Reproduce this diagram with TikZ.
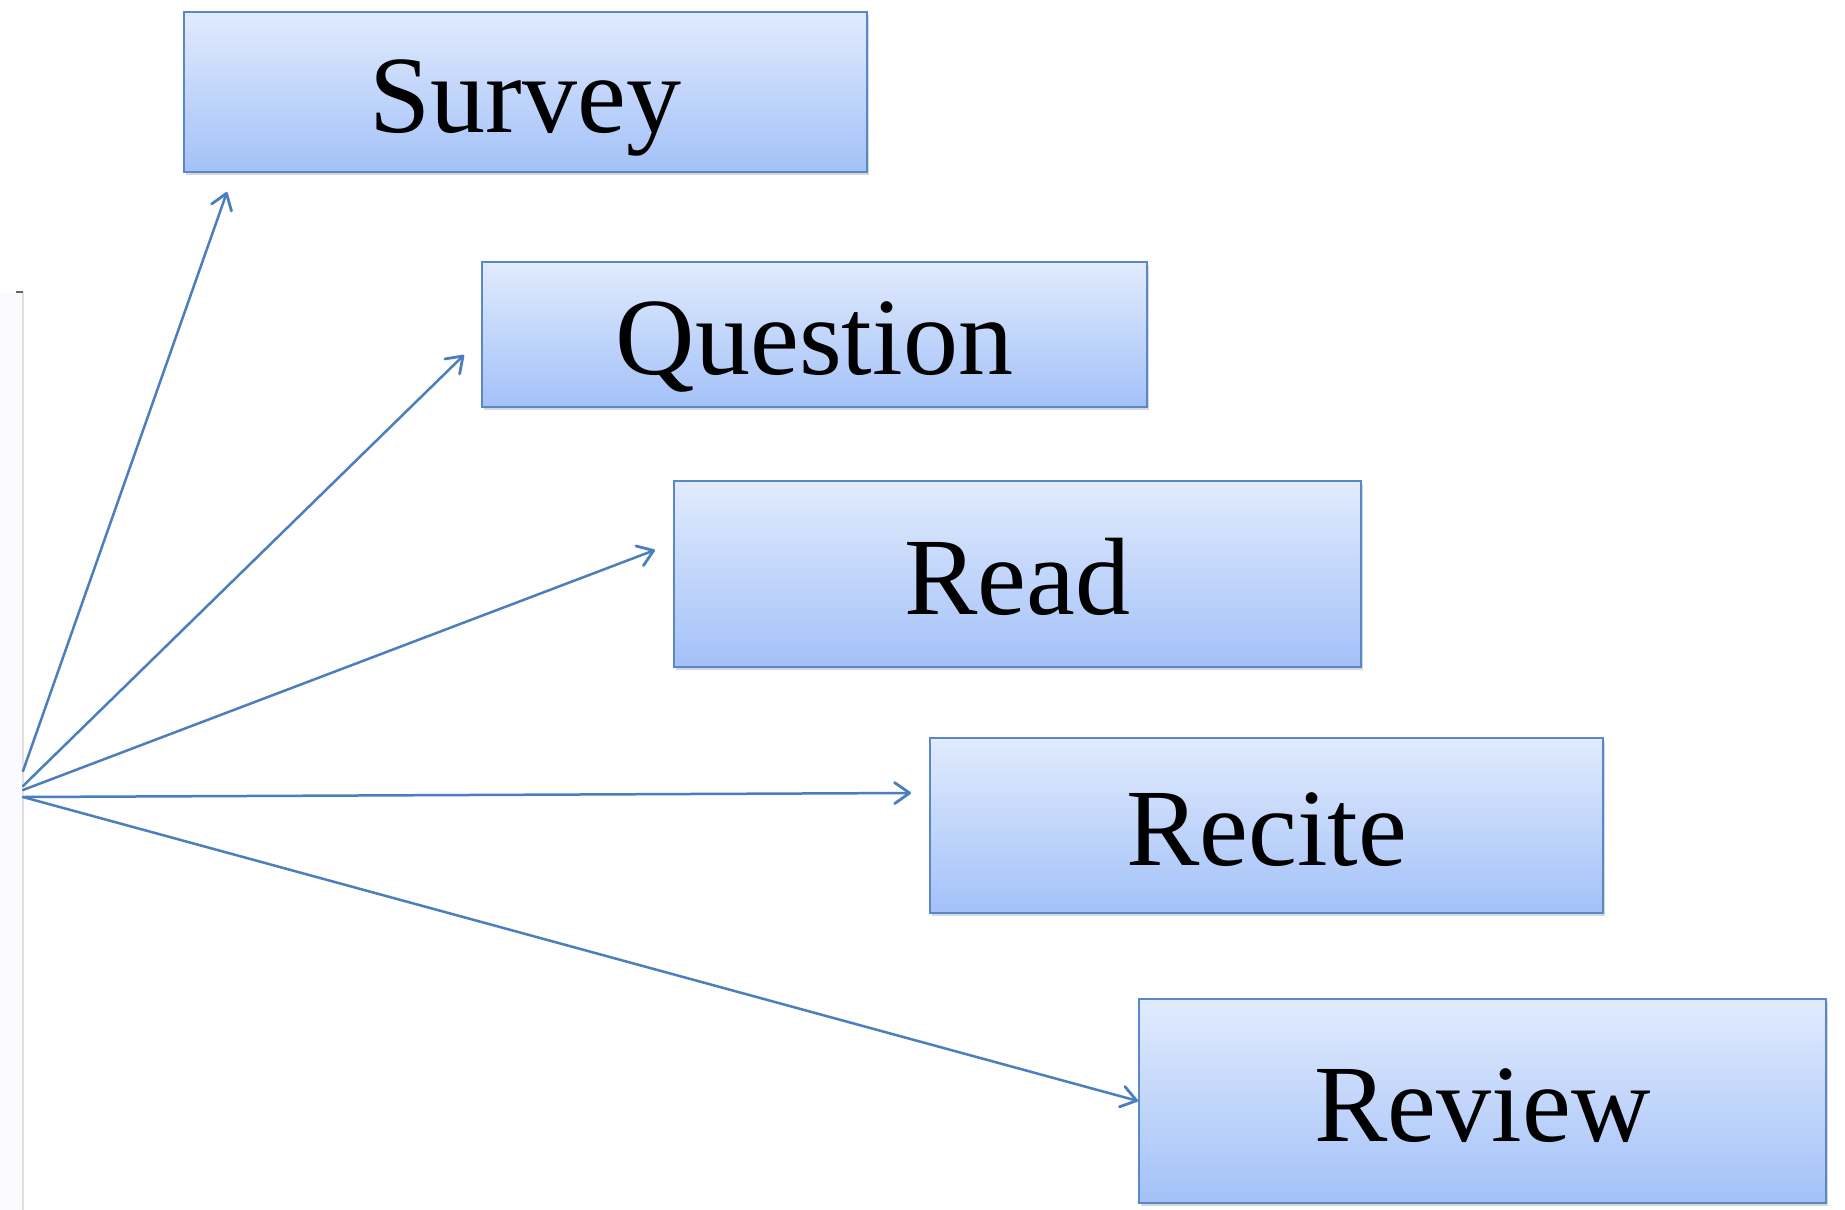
\documentclass[tikz,border=0pt]{standalone}
\usepackage{fontspec}
\setmainfont{Liberation Serif}
\usetikzlibrary{shadows,arrows.meta}
\definecolor{boxtop}{HTML}{E1EBFD}
\definecolor{boxbot}{HTML}{A3C1F8}
\definecolor{boxline}{HTML}{5A87C6}
\definecolor{arrowc}{HTML}{4A7EBE}
\tikzset{
  stepbox/.style={draw=boxline, line width=1.6pt, top color=boxtop, bottom color=boxbot,
    inner sep=0pt, text height=80pt, text depth=0pt,
    font=\fontsize{110}{120}\selectfont,
    drop shadow={shadow xshift=2pt, shadow yshift=-3pt, opacity=0.25, fill=black!60}},
  link/.style={draw=arrowc, line width=2.5pt, line cap=round,
    -{Straight Barb[length=15pt,width=21pt,line width=2.8pt,round]}}
}
\begin{document}
\begin{tikzpicture}[x=1pt,y=-1pt]
\useasboundingbox (0,0) rectangle (1845,1210);
\fill[white] (0,0) rectangle (1845,1210);
% faint panel at left edge
\fill[blue!2] (0,292) rectangle (23,1210);
\draw[black!12, line width=2pt] (23,292) -- (23,1210);
\draw[black!60, line width=2pt] (16,292) -- (23,292);

\node[stepbox, minimum width=683pt, minimum height=160pt] (survey) at (525.5,92) {Survey};
\node[stepbox, minimum width=665pt, minimum height=145pt] (question) at (814.5,334.5) {Question};
\node[stepbox, minimum width=687pt, minimum height=186pt] (read) at (1017.5,574) {Read};
\node[stepbox, minimum width=673pt, minimum height=175pt] (recite) at (1266.5,825.5) {Recite};
\node[stepbox, minimum width=687pt, minimum height=204pt] (review) at (1482.5,1101) {Review};

\coordinate (oS) at (23,771);
\coordinate (oQ) at (23,786);
\coordinate (oRd) at (23,790);
\coordinate (oRc) at (23,797);
\coordinate (oRv) at (23,797);
\coordinate (tS) at (227,192);
\coordinate (tQ) at (464,355);
\coordinate (tRd) at (655,550);
\coordinate (tRc) at (911,793);
\coordinate (tRv) at (1138,1101);

\draw[link] (oS) -- (tS);
\draw[link] (oQ) -- (tQ);
\draw[link] (oRd) -- (tRd);
\draw[link] (oRc) -- (tRc);
\draw[link] (oRv) -- (tRv);
\end{tikzpicture}
\end{document}
